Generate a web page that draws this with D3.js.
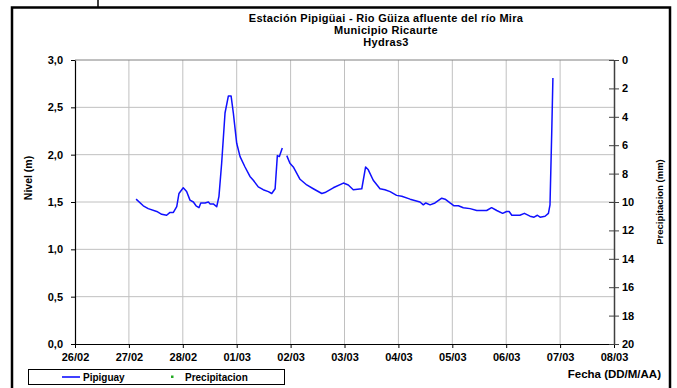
<!DOCTYPE html>
<html><head><meta charset="utf-8">
<script src="https://cdn.jsdelivr.net/npm/d3@7/dist/d3.min.js"></script>
<style>
body{margin:0;background:#fff;}
svg text{font-family:"Liberation Sans",Arial,sans-serif;font-weight:bold;fill:#000;}
</style></head>
<body><svg id="c" width="677" height="388"></svg>
<script>
// Data (hours since 26/02 00:00, level in m); null = gap
const hours = [27.2,30.4,32.6,36.4,38.6,40.8,42.3,43.8,45.3,46.3,48.2,49.7,51.2,52.7,53.9,55.2,56.0,57.9,59.4,60.1,61.6,63.1,64.1,65.3,66.8,68.3,69.5,70.5,72.0,73.5,75.7,77.9,79.4,81.6,83.8,86.1,87.6,89.1,90.1,91.0,92.3,
  93.3,
  94.3,95.7,97.2,100.2,103.2,106.1,109.9,111.3,115.0,119.5,121.7,123.9,127.7,129.4,130.6,132.8,135.8,138.0,140.3,143.2,145.5,149.2,153.6,155.1,156.2,158.1,160.3,163.3,164.8,167.0,168.8,170.7,172.9,175.9,178.9,183.3,185.5,187.8,190.4,192.2,193.3,194.5,198.1,200.1,202.6,204.4,205.9,207.1,209.3,210.8,211.5,212.3,212.8];
const nivel = [1.53,1.46,1.43,1.40,1.37,1.36,1.39,1.39,1.45,1.59,1.65,1.61,1.52,1.50,1.46,1.44,1.49,1.49,1.50,1.48,1.48,1.45,1.56,1.91,2.44,2.62,2.62,2.44,2.12,1.98,1.87,1.77,1.73,1.66,1.63,1.61,1.59,1.64,1.99,1.98,2.07,
  null,
  1.99,1.91,1.87,1.74,1.68,1.64,1.59,1.60,1.65,1.70,1.68,1.63,1.64,1.87,1.84,1.73,1.64,1.63,1.61,1.57,1.56,1.53,1.50,1.47,1.49,1.47,1.49,1.54,1.53,1.49,1.46,1.46,1.44,1.43,1.41,1.41,1.44,1.41,1.38,1.40,1.40,1.36,1.36,1.38,1.35,1.34,1.36,1.34,1.35,1.38,1.47,2.26,2.81];
const xTickLabels = ["26/02","27/02","28/02","01/03","02/03","03/03","04/03","05/03","06/03","07/03","08/03"];
const leftTicks = [0,0.5,1.0,1.5,2.0,2.5,3.0];
const rightTicks = [0,2,4,6,8,10,12,14,16,18,20];
const titles = ["Estación Pipigüai - Rio Güiza afluente del río Mira","Municipio Ricaurte","Hydras3"];
const legendItems = ["Pipiguay","Precipitacion"];

const svg = d3.select("#c");
const L=75,R=614,T=60,B=344;
const x = d3.scaleLinear().domain([0,240]).range([L,R]);
const y = d3.scaleLinear().domain([0,3]).range([B,T]);
const y2 = d3.scaleLinear().domain([0,20]).range([T,B]);
const fmt = v => d3.format(".1f")(v).replace(".",",");

// outer border
svg.append("line").attr("x1",98).attr("x2",98).attr("y1",0).attr("y2",8).attr("stroke","#000").attr("stroke-width",1.5);
svg.append("rect").attr("x",12).attr("y",7.5).attr("width",658).attr("height",400).attr("fill","#fff").attr("stroke","#000").attr("stroke-width",2.5);

// grid
const g = svg.append("g");
xTickLabels.forEach((d,i)=>{ if(i>0&&i<xTickLabels.length-1) g.append("line").attr("x1",x(i*24)).attr("x2",x(i*24)).attr("y1",T).attr("y2",B).attr("stroke","#c0c0c0").attr("stroke-width",1);});
leftTicks.forEach(v=>{ if(v>0&&v<3) g.append("line").attr("x1",L).attr("x2",R).attr("y1",y(v)).attr("y2",y(v)).attr("stroke","#c0c0c0").attr("stroke-width",1);});
g.append("line").attr("x1",L).attr("x2",R).attr("y1",T).attr("y2",T).attr("stroke","#808080").attr("stroke-width",1);

// axes
const ax = svg.append("g").attr("transform",`translate(0,${B})`)
  .call(d3.axisBottom(x).tickValues(xTickLabels.map((d,i)=>i*24)).tickFormat((d,i)=>xTickLabels[i]).tickSize(4).tickSizeOuter(0));
ax.select(".domain").attr("stroke","#000").attr("stroke-width",1.2);
ax.selectAll("text").attr("font-size",11).attr("dy","0.95em").style("font-family","Liberation Sans, Arial, sans-serif").style("font-weight","bold");

const ay = svg.append("g").attr("transform",`translate(${L},0)`)
  .call(d3.axisLeft(y).tickValues(leftTicks).tickFormat(fmt).tickSize(4).tickSizeOuter(0).tickPadding(8));
ay.select(".domain").attr("stroke","#000").attr("stroke-width",1.2);
ay.selectAll("text").attr("font-size",11).style("font-family","Liberation Sans, Arial, sans-serif").style("font-weight","bold");

const ar = svg.append("g").attr("transform",`translate(${R},0)`)
  .call(d3.axisRight(y2).tickValues(rightTicks).tickSize(5).tickSizeOuter(0).tickPadding(3));
ar.select(".domain").attr("stroke","#404040").attr("stroke-width",1.5);
ar.selectAll(".tick line").attr("x1",-5).attr("stroke","#404040");
ar.selectAll("text").attr("font-size",11).style("font-family","Liberation Sans, Arial, sans-serif").style("font-weight","bold");

// line
const pts = hours.map((h,i)=>[h,nivel[i]]);
svg.append("path").datum(pts)
  .attr("d",d3.line().defined(d=>d[1]!==null).x(d=>x(d[0])).y(d=>y(d[1])))
  .attr("fill","none").attr("stroke","#1010ff").attr("stroke-width",1.5).attr("stroke-linejoin","round");

// titles
titles.forEach((t,i)=>svg.append("text").attr("x",386).attr("y",22+i*12).attr("text-anchor","middle").attr("font-size",11).attr("letter-spacing",0.3).text(t));

svg.append("text").attr("transform",`translate(32,178) rotate(-90)`).attr("text-anchor","middle").attr("font-size",10.5).text("Nivel (m)");
svg.append("text").attr("transform",`translate(663,202) rotate(-90)`).attr("text-anchor","middle").attr("font-size",9.5).text("Precipitacion (mm)");
svg.append("text").attr("x",661).attr("y",378).attr("text-anchor","end").attr("font-size",11.5).text("Fecha (DD/M/AA)");

// legend
const lg = svg.append("g");
lg.append("rect").attr("x",28.5).attr("y",369.5).attr("width",256).attr("height",15).attr("fill","#fff").attr("stroke","#000").attr("stroke-width",1);
lg.append("line").attr("x1",62).attr("x2",80).attr("y1",377).attr("y2",377).attr("stroke","#1010ff").attr("stroke-width",1.6);
lg.append("text").attr("x",83).attr("y",380.5).attr("font-size",10).text(legendItems[0]);
lg.append("rect").attr("x",171).attr("y",375.5).attr("width",2.5).attr("height",2.5).attr("fill","#22aa22");
lg.append("text").attr("x",185).attr("y",380.5).attr("font-size",10).text(legendItems[1]);
</script></body></html>
